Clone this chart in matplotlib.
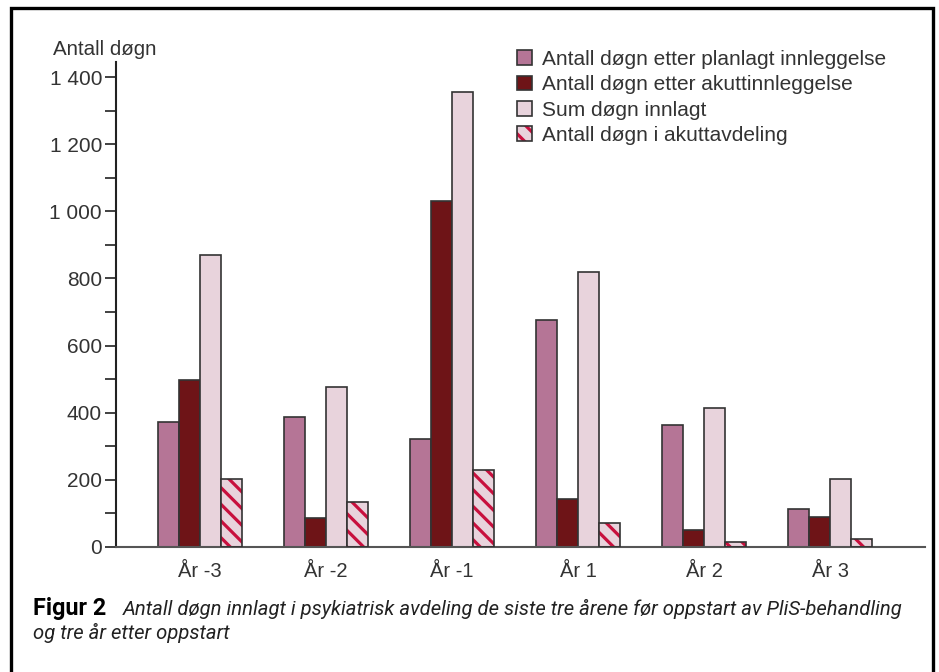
import numpy as np
import matplotlib
matplotlib.use("Agg")
import matplotlib.pyplot as plt
from matplotlib.patches import Patch, Rectangle
from matplotlib.ticker import FuncFormatter, MultipleLocator

years = ["År -3", "År -2", "År -1", "År 1", "År 2", "År 3"]
planned = [372, 386, 321, 676, 363, 112]
acute = [497, 87, 1031, 143, 51, 89]
total = [870, 476, 1355, 820, 414, 202]
acute_ward = [203, 133, 229, 71, 16, 24]

labels = ["Antall døgn etter planlagt innleggelse",
          "Antall døgn etter akuttinnleggelse",
          "Sum døgn innlagt",
          "Antall døgn i akuttavdeling"]

c_planned = "#b57596"
c_acute = "#6e1417"
c_total = "#e8d3dc"
c_hatch = "#c8103e"
c_edge = "#333333"

plt.rcParams["font.family"] = ["Liberation Sans", "DejaVu Sans"]
plt.rcParams["hatch.linewidth"] = 2.3

W, H = 939, 672
fig = plt.figure(figsize=(W / 100, H / 100), dpi=100)
ax = fig.add_axes([116 / W, 1 - 547 / H, (925 - 116) / W, (547 - 62) / H])

x = np.arange(len(years))
w = 0.167
lw = 1.2
ax.bar(x - 1.5 * w, planned, w, color=c_planned, edgecolor=c_edge, linewidth=lw, zorder=2)
ax.bar(x - 0.5 * w, acute, w, color=c_acute, edgecolor=c_edge, linewidth=lw, zorder=2)
ax.bar(x + 0.5 * w, total, w, color=c_total, edgecolor=c_edge, linewidth=lw, zorder=2)
# hatched bars: hatch in crimson, outline drawn on top
ax.bar(x + 1.5 * w, acute_ward, w, color=c_total, edgecolor=c_hatch, hatch="\\\\",
       linewidth=0, zorder=2)
ax.bar(x + 1.5 * w, acute_ward, w, fill=False, edgecolor=c_edge, linewidth=lw, zorder=3)

ax.set_xlim(-0.667, 5.754)
ax.set_ylim(0, 1445)
ax.set_xticks(x)
ax.set_xticklabels(years, fontsize=14.5, color="#333333")
ax.tick_params(axis="x", length=0, pad=11)
ax.yaxis.set_major_locator(MultipleLocator(200))
ax.yaxis.set_minor_locator(MultipleLocator(100))
ax.yaxis.set_major_formatter(FuncFormatter(lambda v, p: f"{int(v):,}".replace(",", " ")))
ax.tick_params(axis="y", which="both", length=8, width=1.3, color="#333333",
               labelsize=15, labelcolor="#333333", pad=2)
for s in ["top", "right"]:
    ax.spines[s].set_visible(False)
ax.spines["left"].set_linewidth(1.5)
ax.spines["left"].set_color("#222222")
ax.spines["bottom"].set_linewidth(1.5)
ax.spines["bottom"].set_color("#555555")

fig.text(53 / W, 1 - 55 / H, "Antall døgn", fontsize=14.8, color="#333333",
         ha="left", va="baseline")

handles = [Patch(facecolor=c_planned, edgecolor=c_edge, linewidth=1.2),
           Patch(facecolor=c_acute, edgecolor=c_edge, linewidth=1.2),
           Patch(facecolor=c_total, edgecolor=c_edge, linewidth=1.2),
           (Patch(facecolor=c_total, edgecolor=c_hatch, hatch="\\\\", linewidth=0),
            Patch(fill=False, edgecolor=c_edge, linewidth=1.2))]
fig.legend(handles, labels, loc="upper left", bbox_to_anchor=(517 / W, 1 - 50 / H),
           frameon=False, fontsize=15, handlelength=0.7, handleheight=0.7,
           handletextpad=0.5, labelspacing=0.3, borderpad=0, borderaxespad=0,
           labelcolor="#333333")

cap_font = ["Liberation Sans Narrow", "Roboto", "DejaVu Sans"]
fig.text(33 / W, 1 - 615 / H, "Figur 2", fontsize=16.8, fontweight="bold",
         family=cap_font, va="baseline")
fig.text(123 / W, 1 - 615 / H,
         "Antall døgn innlagt i psykiatrisk avdeling de siste tre årene før oppstart av PliS-behandling",
         fontsize=14.6, style="italic", family=cap_font, va="baseline", color="#222222")
fig.text(33 / W, 1 - 639 / H, "og tre år etter oppstart", fontsize=14.6, style="italic",
         family=cap_font, va="baseline", color="#222222")

fig.patches.append(Rectangle((11 / W, -0.05), (933 - 11) / W, 1 - 8 / H + 0.05,
                             transform=fig.transFigure, fill=False, edgecolor="black",
                             linewidth=2.4, clip_on=False))

fig.savefig("out.png", dpi=100)
